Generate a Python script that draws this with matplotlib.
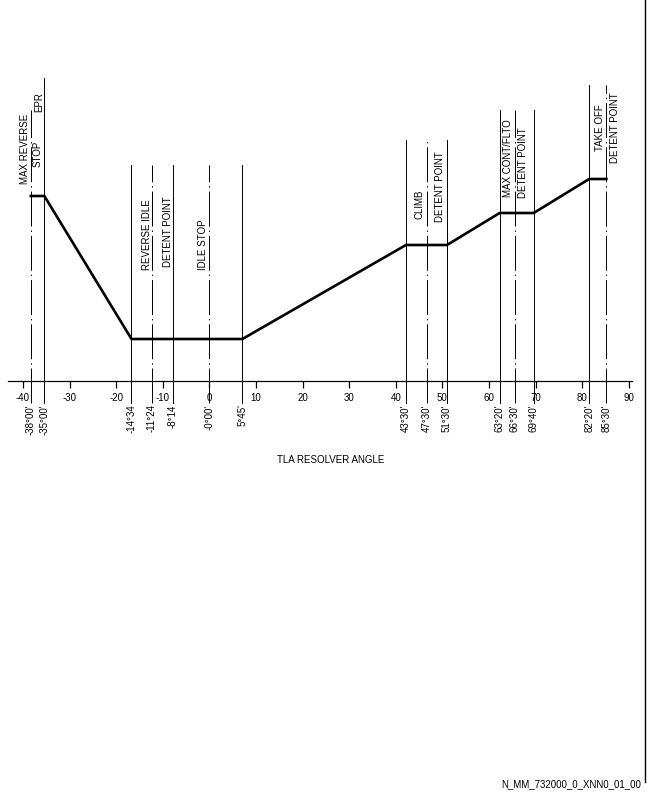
import matplotlib
matplotlib.use("Agg")
import matplotlib.pyplot as plt
from matplotlib.lines import Line2D

plt.rcParams['font.family'] = ['Liberation Sans', 'DejaVu Sans']
plt.rcParams['axes.unicode_minus'] = False

# EPR schedule vs TLA (schematic units)
curve_x = [-38.3, -35.4, -16.7, 7.1, 42.2, 51.0, 62.3, 69.6, 81.5, 85.2]
curve_y = [1.85, 1.85, 0.42, 0.42, 1.36, 1.36, 1.68, 1.68, 2.02, 2.02]

# reference lines and their angle labels
ref_x = [-38.3, -35.4, -16.7, -12.4, -7.9, 0.0, 7.1,
         42.2, 46.7, 51.0, 62.3, 65.5, 69.6, 81.5, 85.2]
ref_top = [2.71, 3.03, 2.16, 2.16, 2.16, 2.16, 2.16,
           2.41, 2.41, 2.41, 2.71, 2.71, 2.71, 2.96, 2.96]
ref_dashdot = [True, False, False, True, False, True, False,
               False, True, False, False, True, False, False, True]
ref_labels = ["-38°00'", "-35°00'", "-14°34", "-11°24", "-8°14", "-0°00'", "5°45'",
              "43°30'", "47°30'", "51°30'", "63°20'", "66°30'", "69°40'", "82°20'", "85°30'"]

ticks = [-40, -30, -20, -10, 0, 10, 20, 30, 40, 50, 60, 70, 80, 90]

# rotated captions: text, x, y
captions = [
    ("MAX REVERSE", -39.5, 2.32),
    ("STOP", -36.8, 2.275),
    ("EPR", -36.6, 2.785),
    ("REVERSE IDLE", -13.4, 1.46),
    ("DETENT POINT", -8.9, 1.495),
    ("IDLE STOP", -1.35, 1.365),
    ("CLIMB", 45.2, 1.77),
    ("DETENT POINT", 49.5, 1.945),
    ("MAX CONT/FLTO", 64.1, 2.225),
    ("DETENT POINT", 67.3, 2.185),
    ("TAKE OFF", 83.8, 2.53),
    ("DETENT POINT", 87.1, 2.535),
]

fig = plt.figure(figsize=(6.48, 7.92), dpi=100)
ax = fig.add_axes([8/648, 1 - 381/792, 624/648, 303/792])
ax.set_xlim(-43.2, 90.7)
ax.set_ylim(0, 3.03)

for s in ['top', 'right', 'left']:
    ax.spines[s].set_visible(False)
ax.spines['bottom'].set_linewidth(0.9)
ax.set_yticks([])
ax.set_xticks(ticks)
ax.set_xticklabels([str(t) for t in ticks], fontsize=7)
ax.tick_params(axis='x', direction='out', length=5, width=0.9, pad=3.5)

for x, top, dd, lab in zip(ref_x, ref_top, ref_dashdot, ref_labels):
    ls = (0, (36, 4, 1.5, 4)) if dd else '-'
    ax.plot([x, x], [-0.22, top], color='black', lw=0.7, ls=ls, clip_on=False)
    ax.text(x, -0.235, lab, rotation=90, ha='center', va='top', fontsize=7)

ax.plot(curve_x, curve_y, color='black', lw=1.9, solid_joinstyle='miter')

for txt, x, y in captions:
    ax.text(x, y, txt, rotation=90, ha='center', va='center', fontsize=7)

fig.text(331/648, 1 - 460/792, "TLA RESOLVER ANGLE", ha='center', va='center', fontsize=7)
fig.text(641/648, 1 - 784/792, "N_MM_732000_0_XNN0_01_00", ha='right', va='center', fontsize=7)
fig.add_artist(Line2D([645/648, 645/648], [1 - 782/792, 1], color='black', lw=1.0))

fig.savefig("out.png", dpi=100)
